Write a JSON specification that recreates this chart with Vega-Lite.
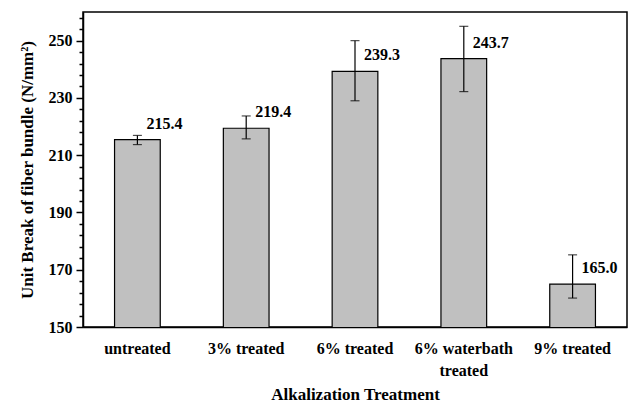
{
  "$schema": "https://vega.github.io/schema/vega-lite/v6.json",
  "width": 544,
  "height": 315,
  "autosize": "none",
  "padding": {"left": 83, "top": 12, "right": 1, "bottom": 77},
  "background": "white",
  "config": {
    "view": {"stroke": "black", "strokeWidth": 1.5},
    "font": "Liberation Serif",
    "axis": {"ticks": true, "tickOpacity": 1}
  },
  "data": {
    "values": [
      {"treatment": "untreated", "value": 215.4, "lo": 213.7, "hi": 216.9},
      {"treatment": "3% treated", "value": 219.4, "lo": 215.7, "hi": 223.7},
      {"treatment": "6% treated", "value": 239.3, "lo": 229.0, "hi": 250.0},
      {"treatment": "6% waterbath treated", "value": 243.7, "lo": 232.2, "hi": 255.0},
      {"treatment": "9% treated", "value": 165.0, "lo": 160.1, "hi": 175.2}
    ]
  },
  "encoding": {
    "x": {
      "field": "treatment",
      "type": "nominal",
      "sort": null,
      "scale": {"paddingInner": 0.58, "paddingOuter": 0.29},
      "axis": {
        "title": "Alkalization Treatment",
        "titleFont": "Liberation Serif",
        "titleFontSize": 17,
        "titleFontWeight": "bold",
        "titleColor": "black",
        "titlePadding": 8,
        "labelFont": "Liberation Serif",
        "labelFontSize": 16,
        "labelFontWeight": "bold",
        "labelColor": "black",
        "labelAngle": 0,
        "labelPadding": 13,
        "labelLineHeight": 22,
        "labelExpr": "datum.value == '6% waterbath treated' ? ['6% waterbath', 'treated'] : datum.label",
        "ticks": false,
        "domainColor": "black",
        "domainWidth": 1.5
      }
    }
  },
  "layer": [
    {
      "mark": {"type": "bar", "fill": "#c0c0c0", "stroke": "black", "strokeWidth": 1.2, "clip": true},
      "encoding": {
        "y": {
          "field": "value",
          "type": "quantitative",
          "scale": {"domain": [150, 260], "nice": false, "zero": false},
          "axis": {
            "orient": "left",
            "title": "Unit Break of fiber bundle (N/mm²)",
            "titleFont": "Liberation Serif",
            "titleFontSize": 17,
            "titleFontWeight": "bold",
            "titleColor": "black",
            "titlePadding": 12,
            "values": [150, 170, 190, 210, 230, 250],
            "labelOverlap": false,
            "labelFont": "Liberation Serif",
            "labelFontSize": 16,
            "labelFontWeight": "bold",
            "labelColor": "black",
            "labelPadding": 4,
            "ticks": true,
            "tickSize": 7,
            "tickColor": "#000000",
            "tickWidth": 1.5,
            "tickOpacity": 1,
            "domainColor": "black",
            "domainWidth": 1.5,
            "grid": false
          }
        }
      }
    },
    {
      "mark": {"type": "rule", "stroke": "black", "strokeWidth": 1.2},
      "encoding": {
        "y": {
          "field": "lo",
          "type": "quantitative",
          "axis": {
            "orient": "left",
            "title": null,
            "values": [154, 158, 162, 166, 174, 178, 182, 186, 194, 198, 202, 206, 214, 218, 222, 226, 234, 238, 242, 246, 254, 258],
            "labels": false,
            "ticks": true,
            "tickSize": 4,
            "tickColor": "#000000",
            "tickWidth": 1.5,
            "tickOpacity": 1,
            "domain": false,
            "grid": false
          }
        },
        "y2": {"field": "hi"}
      }
    },
    {
      "mark": {"type": "tick", "orient": "horizontal", "size": 9, "thickness": 1.2, "color": "black"},
      "encoding": {"y": {"field": "hi", "type": "quantitative", "axis": null}}
    },
    {
      "mark": {"type": "tick", "orient": "horizontal", "size": 9, "thickness": 1.2, "color": "black"},
      "encoding": {"y": {"field": "lo", "type": "quantitative", "axis": null}}
    },
    {
      "mark": {"type": "text", "align": "left", "baseline": "middle", "dx": 9, "dy": -16, "font": "Liberation Serif", "fontSize": 16, "fontWeight": "bold", "color": "black"},
      "encoding": {
        "y": {"field": "value", "type": "quantitative", "axis": null},
        "text": {"field": "value", "type": "quantitative", "format": ".1f"}
      }
    }
  ],
  "resolve": {"axis": {"y": "independent"}}
}
